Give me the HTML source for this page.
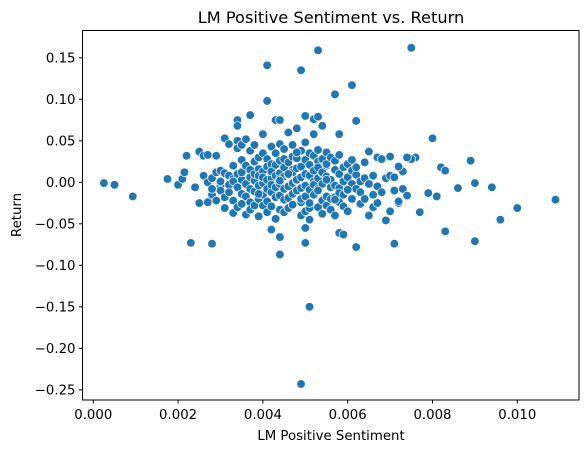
<!DOCTYPE html>
<html><head><meta charset="utf-8"><style>
body{margin:0;background:#fff;font-family:"Liberation Sans","DejaVu Sans",sans-serif}
</style></head><body>
<svg id="chart" width="587" height="453" xmlns="http://www.w3.org/2000/svg" font-family="DejaVu Sans, Liberation Sans, sans-serif">
<rect width="587" height="453" fill="#fff"/>
<text x="331" y="23" font-size="16.2" text-anchor="middle" fill="#000">LM Positive Sentiment vs. Return</text>
<g id="points"></g>
<g id="xticks"></g>
<g id="yticks"></g>
<rect x="82.5" y="30.5" width="496.5" height="369.5" fill="none" stroke="#000" stroke-width="1"/>
<text x="331" y="440" font-size="13.3" text-anchor="middle" fill="#000">LM Positive Sentiment</text>
<text transform="translate(21,215) rotate(-90)" font-size="13.3" text-anchor="middle" fill="#000">Return</text>
</svg>
<script>
const xTicks=[0.000,0.002,0.004,0.006,0.008,0.010];
const xTickLabels=["0.000","0.002","0.004","0.006","0.008","0.010"];
const yTicks=[0.15,0.10,0.05,0.00,-0.05,-0.10,-0.15,-0.20,-0.25];
const yTickLabels=["0.15","0.10","0.05","0.00","\u22120.05","\u22120.10","\u22120.15","\u22120.20","\u22120.25"];
const sentiment=[0.00025,0.0005,0.00093,0.00175,0.0020,0.0021,0.00215,0.0022,0.0023,0.0028,0.0041,0.0049,0.0053,0.0061,0.0075,0.0041,0.0057,0.0051,0.0049,0.0044,0.0062,0.0071,0.0083,0.0090,0.0096,0.0100,0.0109,0.0094,0.0089,0.0090,0.0086,0.0082,0.0083,0.0080,0.0081,0.0079,0.0077,0.0076,0.0075,0.0073,0.0072,0.0062,0.0058,0.0050,0.0052,0.0053,0.0054,0.0037,0.0043,0.0044,0.0034,0.0034,0.0042,0.0044,0.0050,0.0058,0.0059,0.0050,
0.0024,0.0025,0.0025,0.0026,0.0026,0.0027,0.0027,0.0027,0.0028,0.0028,0.0028,0.0029,0.0029,0.0029,0.0030,0.0030,0.0030,0.0030,0.0031,0.0031,0.0031,0.0031,0.0032,0.0032,0.0032,0.0032,0.0033,0.0033,0.0033,0.0033,0.0033,0.0034,0.0034,0.0034,0.0034,0.0034,0.0035,0.0035,0.0035,0.0035,0.0035,0.0035,0.0036,0.0036,0.0036,0.0036,0.0036,0.0037,0.0037,0.0037,0.0037,0.0037,0.0037,0.0038,0.0038,0.0038,0.0038,0.0038,0.0038,0.0039,0.0039,0.0039,0.0039,0.0039,0.0039,0.0040,0.0040,0.0040,0.0040,0.0040,0.0040,0.0040,0.0041,0.0041,0.0041,0.0041,0.0041,0.0041,0.0042,0.0042,0.0042,0.0042,0.0042,0.0042,0.0042,0.0043,0.0043,0.0043,0.0043,0.0043,0.0043,0.0044,0.0044,0.0044,0.0044,0.0044,0.0044,0.0044,0.0045,0.0045,0.0045,0.0045,0.0045,0.0045,0.0045,0.0046,0.0046,0.0046,0.0046,0.0046,0.0046,0.0047,0.0047,0.0047,0.0047,0.0047,0.0047,0.0047,0.0048,0.0048,0.0048,0.0048,0.0048,0.0048,0.0049,0.0049,0.0049,0.0049,0.0049,0.0049,0.0049,0.0050,0.0050,0.0050,0.0050,0.0050,0.0050,0.0051,0.0051,0.0051,0.0051,0.0051,0.0051,0.0051,0.0052,0.0052,0.0052,0.0052,0.0052,0.0052,0.0053,0.0053,0.0053,0.0053,0.0053,0.0053,0.0054,0.0054,0.0054,0.0054,0.0054,0.0054,0.0055,0.0055,0.0055,0.0055,0.0055,0.0055,0.0056,0.0056,0.0056,0.0056,0.0056,0.0057,0.0057,0.0057,0.0057,0.0057,0.0058,0.0058,0.0058,0.0058,0.0058,0.0059,0.0059,0.0059,0.0059,0.0060,0.0060,0.0060,0.0060,0.0061,0.0061,0.0061,0.0061,0.0062,0.0062,0.0062,0.0063,0.0063,0.0063,0.0064,0.0064,0.0064,0.0065,0.0065,0.0065,0.0066,0.0066,0.0066,0.0067,0.0067,0.0067,0.0068,0.0068,0.0069,0.0069,0.0070,0.0070,0.0070,0.0071,0.0071,0.0072,0.0072,0.0073,0.0074,0.0074,0.0046,0.0048,0.0053,0.0055,0.0039,0.0044,0.0057,0.0060];
const returns=[-0.001,-0.003,-0.017,0.004,-0.003,0.004,0.012,0.032,-0.073,-0.074,0.141,0.135,0.159,0.117,0.162,0.098,0.106,-0.150,-0.243,-0.087,-0.078,-0.074,-0.059,-0.071,-0.045,-0.031,-0.021,-0.006,0.026,-0.001,-0.007,0.018,0.014,0.053,-0.017,-0.013,-0.036,0.030,0.028,0.013,-0.025,0.074,0.058,0.080,0.076,0.079,0.068,0.081,0.075,0.075,0.075,0.068,-0.057,-0.066,-0.073,-0.061,-0.063,-0.055,
-0.006,0.037,-0.025,0.032,0.008,-0.024,0.000,0.033,0.005,-0.015,-0.008,0.012,-0.022,0.032,0.014,-0.004,-0.010,0.001,0.053,0.011,-0.018,-0.031,0.046,0.008,-0.003,-0.012,0.020,-0.022,0.004,0.001,-0.037,0.050,0.041,0.010,-0.006,-0.030,0.045,0.027,0.003,-0.014,-0.026,0.012,0.052,0.020,-0.002,-0.017,-0.039,0.038,0.015,-0.008,0.006,-0.024,-0.033,0.045,0.025,0.002,-0.011,-0.028,0.010,0.030,0.016,-0.004,-0.020,-0.041,0.008,0.058,0.035,0.013,-0.001,-0.015,-0.028,0.006,0.028,0.019,-0.008,-0.023,-0.036,0.003,0.043,0.022,0.005,-0.012,-0.029,0.013,-0.003,0.035,0.021,0.008,-0.006,-0.018,-0.044,0.046,0.026,0.011,-0.002,-0.016,-0.033,0.004,0.040,0.018,0.007,-0.008,-0.021,-0.036,0.028,0.060,0.024,0.009,-0.005,-0.019,-0.031,0.015,0.045,0.031,0.012,-0.001,-0.014,-0.027,0.002,0.065,0.029,0.017,0.003,-0.010,-0.024,-0.040,0.038,0.019,0.006,-0.007,-0.020,-0.035,0.048,0.027,0.010,-0.004,-0.017,-0.031,-0.045,0.035,0.021,0.008,-0.009,-0.025,0.001,0.058,0.032,0.014,-0.003,-0.015,-0.030,0.025,0.039,0.018,0.005,-0.008,-0.022,-0.038,0.011,0.028,0.012,-0.002,-0.017,-0.028,0.020,0.036,0.022,0.007,-0.006,-0.020,-0.033,0.003,0.030,0.015,-0.004,-0.018,-0.040,0.026,0.010,-0.007,-0.024,-0.013,0.033,0.018,0.001,-0.015,-0.029,0.022,0.006,-0.010,-0.035,0.014,0.027,-0.002,-0.020,0.009,0.018,-0.008,-0.026,0.001,-0.012,0.024,0.005,-0.020,-0.040,0.037,-0.002,-0.030,0.008,-0.015,0.030,-0.005,-0.025,0.028,-0.012,0.005,-0.046,0.031,0.008,-0.035,0.006,-0.010,0.019,-0.023,-0.008,0.030,-0.016,0.010,0.036,-0.010,0.003,-0.014,0.002,-0.021,-0.009,0.016,-0.012,-0.002,0.028,-0.047,-0.022,-0.047,-0.052,-0.060];
const X0=93.3,XS=84.8/0.002,Y0=182.3,YS=41.5/0.05;
const xs=v=>X0+v*XS, ys=v=>Y0-v*YS;
const NS="http://www.w3.org/2000/svg";
const pg=document.getElementById('points');
for(let i=0;i<sentiment.length;i++){
  const c=document.createElementNS(NS,'circle');
  c.setAttribute('cx',xs(sentiment[i]));c.setAttribute('cy',ys(returns[i]));
  c.setAttribute('r',4.3);c.setAttribute('fill','#1f77b4');c.setAttribute('stroke','#fff');c.setAttribute('stroke-width','0.7');
  
  
  pg.appendChild(c);
}
const xg=document.getElementById('xticks');
xTicks.forEach((v,i)=>{
  const x=xs(v);
  const l=document.createElementNS(NS,'line');
  l.setAttribute('x1',x);l.setAttribute('x2',x);l.setAttribute('y1',400);l.setAttribute('y2',403.5);l.setAttribute('stroke','#000');
  
  
  xg.appendChild(l);
  const t=document.createElementNS(NS,'text');
  t.setAttribute('x',x);t.setAttribute('y',419);t.setAttribute('font-size','13.3');t.setAttribute('text-anchor','middle');
  t.textContent=xTickLabels[i];
  
  
  xg.appendChild(t);
});
const yg=document.getElementById('yticks');
yTicks.forEach((v,i)=>{
  const y=ys(v);
  const l=document.createElementNS(NS,'line');
  l.setAttribute('x1',79);l.setAttribute('x2',82.5);l.setAttribute('y1',y);l.setAttribute('y2',y);l.setAttribute('stroke','#000');
  
  
  yg.appendChild(l);
  const t=document.createElementNS(NS,'text');
  t.setAttribute('x',75.5);t.setAttribute('y',y+4.8);t.setAttribute('font-size','13.3');t.setAttribute('text-anchor','end');
  t.textContent=yTickLabels[i];
  
  
  yg.appendChild(t);
});
</script>
</body></html>
